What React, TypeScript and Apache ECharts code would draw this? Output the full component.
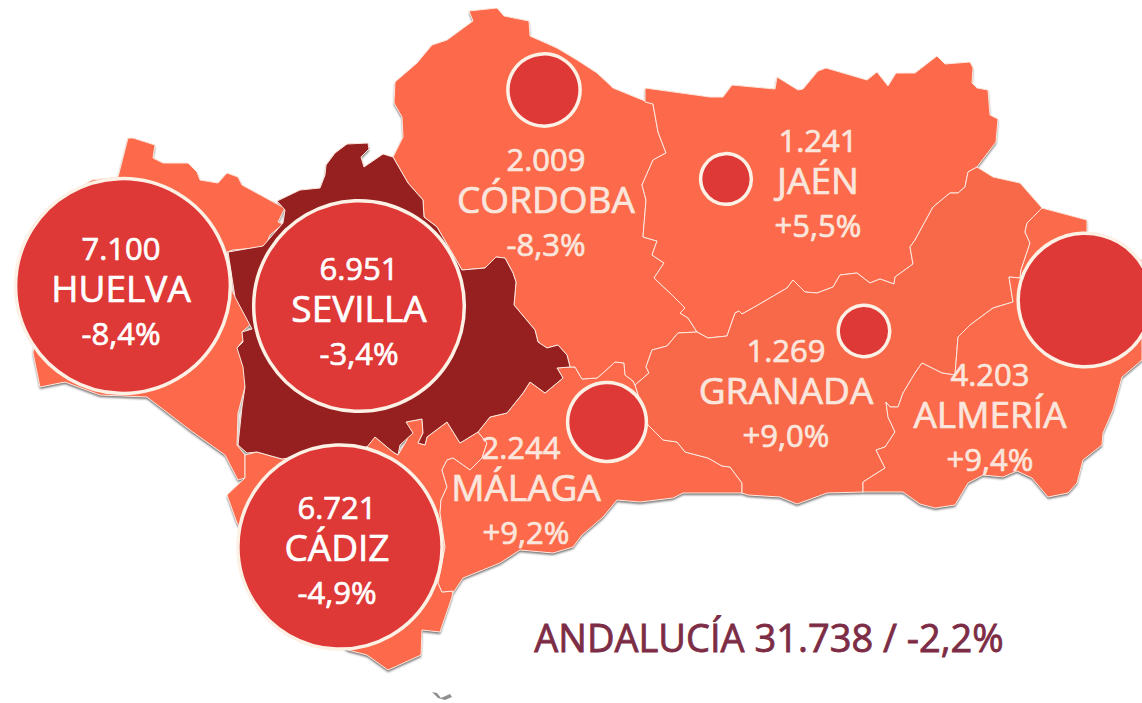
import React, { useEffect, useRef } from "react";
import * as echarts from "echarts";

const WIDTH = 1142;
const HEIGHT = 703;

const provinces = ["HUELVA", "SEVILLA", "CÁDIZ", "MÁLAGA", "CÓRDOBA", "JAÉN", "GRANADA", "ALMERÍA"];
const contracts = ["7.100", "6.951", "6.721", "2.244", "2.009", "1.241", "1.269", "4.203"];
const contractValues = [7100, 6951, 6721, 2244, 2009, 1241, 1269, 4203];
const changes = ["-8,4%", "-3,4%", "-4,9%", "+9,2%", "-8,3%", "+5,5%", "+9,0%", "+9,4%"];
const totalLabel = "ANDALUCÍA 31.738 / -2,2%";

// Map anchors (picture coordinates) of the bubbles and of the text blocks
const bubbleAnchors = [[123, 286], [359, 306], [340, 547], [607, 422], [544, 90], [726, 179], [864, 331], [1085, 300]];
const labelAnchors = [[121, 287], [359, 307], [337, 546], [526, 486], [546, 198], [818, 179], [786, 389], [990, 413]];

const outlineHuelva = [[128,138],[133,138],[155,145],[153,158],[163,163],[188,163],[197,172],[200,180],[218,183],[227,173],[238,177],[242,185],[275,203],[285,208],[278,222],[283,224],[270,235],[265,247],[233,250],[227,252],[233,293],[252,323],[242,332],[245,338],[237,348],[247,355],[245,387],[238,413],[237,445],[245,455],[245,478],[238,480],[225,455],[190,430],[147,397],[100,395],[65,382],[40,387],[33,353],[40,300],[60,200],[92,180],[118,177]];
const outlineSevilla = [[326,165],[335,153],[347,144],[368,143],[369,149],[361,157],[364,167],[383,154],[393,157],[408,183],[423,200],[424,217],[437,227],[462,270],[485,268],[496,257],[505,258],[513,273],[516,282],[514,305],[535,330],[538,342],[547,348],[558,345],[567,355],[570,367],[557,368],[563,378],[545,393],[530,382],[523,393],[507,413],[490,417],[478,432],[460,443],[447,422],[427,437],[425,445],[418,443],[423,433],[422,419],[406,422],[413,433],[400,445],[398,455],[393,452],[375,437],[367,447],[282,459],[257,452],[247,453],[238,445],[242,407],[245,387],[243,367],[237,348],[243,342],[242,332],[252,329],[235,297],[228,252],[263,246],[270,238],[283,223],[285,210],[277,201],[300,190],[320,188],[325,175]];
const outlineCadiz = [[245,455],[257,452],[282,459],[300,452],[375,437],[393,452],[398,455],[407,440],[406,422],[422,419],[423,433],[418,443],[425,445],[427,437],[447,422],[460,443],[478,432],[487,443],[482,458],[470,470],[453,458],[447,460],[442,470],[447,487],[441,500],[440,513],[445,547],[438,583],[442,592],[453,591],[452,597],[440,632],[422,630],[421,655],[388,670],[367,655],[348,650],[300,620],[237,523],[227,495],[245,478]];
const outlineMalaga = [[478,432],[490,417],[507,413],[523,393],[530,382],[545,393],[563,378],[557,368],[570,367],[575,367],[582,379],[597,378],[603,373],[615,362],[624,363],[625,375],[633,381],[635,385],[648,425],[663,440],[677,442],[685,452],[708,458],[722,466],[730,467],[742,483],[742,493],[683,493],[673,498],[640,502],[617,500],[603,517],[582,535],[573,547],[553,553],[520,550],[500,563],[463,578],[453,593],[453,591],[442,592],[438,583],[445,547],[440,513],[441,500],[447,487],[442,470],[447,460],[453,458],[470,470],[482,458],[487,443]];
const outlineCordoba = [[469,11],[497,8],[504,16],[529,21],[530,36],[557,48],[577,60],[597,73],[613,88],[640,99],[653,104],[658,132],[666,153],[653,160],[642,185],[646,200],[643,237],[657,241],[652,255],[664,263],[654,278],[670,293],[685,308],[680,313],[688,318],[697,332],[678,333],[667,346],[652,350],[646,367],[649,373],[635,385],[633,381],[625,375],[624,363],[615,362],[603,373],[597,378],[582,379],[575,367],[570,367],[567,355],[558,345],[547,348],[538,342],[535,330],[514,305],[516,282],[513,273],[505,258],[496,257],[485,268],[462,270],[437,227],[424,217],[423,200],[408,183],[393,157],[403,137],[402,117],[394,103],[395,82],[417,63],[432,45],[447,40],[473,21]];
const outlineJaen = [[645,88],[710,97],[723,97],[732,85],[775,89],[777,77],[798,90],[803,89],[818,71],[826,68],[867,80],[877,72],[888,86],[896,73],[915,73],[937,56],[945,64],[970,62],[973,68],[972,83],[977,88],[988,90],[990,115],[998,119],[996,142],[977,167],[968,172],[965,187],[958,193],[950,193],[933,207],[915,240],[910,247],[913,264],[895,277],[894,284],[880,279],[870,283],[857,273],[840,275],[833,287],[817,293],[805,292],[793,280],[787,288],[758,305],[742,314],[739,311],[735,313],[727,336],[708,338],[697,332],[688,318],[680,313],[685,308],[670,293],[654,278],[664,263],[652,255],[657,241],[643,237],[646,200],[642,185],[653,160],[666,153],[658,132],[653,104],[645,102]];
const outlineGranada = [[697,332],[708,338],[727,336],[735,313],[739,311],[742,314],[758,305],[787,288],[793,280],[805,292],[817,293],[833,287],[840,275],[857,273],[870,283],[880,279],[894,284],[895,277],[913,264],[910,247],[915,240],[933,207],[950,193],[958,193],[965,187],[968,172],[977,167],[993,177],[1020,183],[1042,208],[1027,223],[1025,232],[1030,243],[1021,270],[1020,278],[1009,277],[1013,302],[993,308],[970,325],[958,337],[955,375],[942,373],[922,363],[915,373],[903,393],[898,407],[890,407],[886,402],[888,417],[895,432],[885,447],[876,450],[885,468],[863,482],[863,492],[827,493],[797,504],[780,497],[748,495],[742,493],[742,483],[730,467],[722,466],[708,458],[685,452],[677,442],[663,440],[648,425],[635,385],[649,373],[646,367],[652,350],[667,346],[678,333]];
const outlineAlmeria = [[1042,208],[1087,220],[1087,240],[1142,260],[1142,360],[1122,377],[1113,410],[1103,433],[1102,445],[1083,460],[1077,483],[1068,493],[1048,497],[1032,478],[1017,471],[1003,477],[983,475],[968,483],[955,505],[935,508],[920,504],[903,492],[863,492],[863,482],[885,468],[876,450],[885,447],[895,432],[888,417],[886,402],[890,407],[898,407],[903,393],[915,373],[922,363],[942,373],[955,375],[958,337],[970,325],[993,308],[1013,302],[1009,277],[1020,278],[1021,270],[1030,243],[1025,232],[1027,223]];
const outlineIsland = [[432,692],[437,693],[441,698],[450,694],[452,697],[445,700],[438,698]];

const outlines = [outlineHuelva, outlineCadiz, outlineMalaga, outlineCordoba, outlineJaen, outlineGranada, outlineAlmeria, outlineSevilla];
const outlineFills = ["#fc6a4b", "#fc6a4b", "#fc6a4b", "#fc6a4b", "#fc6a4b", "#f8694a", "#fb6a4a", "#95201f"];

const bubbleRadius = (v: number) => 10 + 0.014 * v;

const polygonSeries = (shadow: boolean, z: number) => ({
  type: "custom",
  coordinateSystem: "cartesian2d",
  silent: true,
  z,
  clip: false,
  data: outlines.map((_, i) => [i]),
  encode: { x: -1, y: -1 },
  renderItem: (params: any, api: any) => {
    const i = params.dataIndex;
    return {
      type: "polygon",
      shape: { points: outlines[i].map((p) => api.coord(p)) },
      style: shadow
        ? { fill: "#fc6a4b", shadowColor: "rgba(60,60,60,0.75)", shadowBlur: 2, shadowOffsetX: 0, shadowOffsetY: 2 }
        : { fill: outlineFills[i], stroke: "#fde9e0", lineWidth: 1, lineJoin: "round" },
    };
  },
});

export default function App() {
  const ref = useRef<HTMLDivElement>(null);
  useEffect(() => {
    const chart = echarts.init(ref.current!, undefined, { renderer: "svg" });
    chart.setOption({
      animation: false,
      backgroundColor: "#ffffff",
      tooltip: { show: false },
      grid: { left: 0, right: 0, top: 0, bottom: 0 },
      xAxis: { type: "value", min: 0, max: WIDTH, show: false },
      yAxis: { type: "value", min: 0, max: HEIGHT, inverse: true, show: false },
      series: [
        polygonSeries(true, 1),
        polygonSeries(false, 2),
        {
          type: "custom",
          coordinateSystem: "cartesian2d",
          silent: true,
          z: 2,
          data: [[0]],
          encode: { x: -1, y: -1 },
          renderItem: (_: any, api: any) => ({
            type: "polygon",
            shape: { points: outlineIsland.map((p) => api.coord(p)) },
            style: { fill: "#8f8f8f" },
          }),
        },
        {
          type: "scatter",
          silent: true,
          z: 3,
          clip: false,
          symbol: "circle",
          data: contractValues.map((v, i) => [bubbleAnchors[i][0], bubbleAnchors[i][1], v]),
          symbolSize: (d: number[]) => bubbleRadius(d[2]) * 2 - 4,
          itemStyle: { color: "#de3837", borderColor: "#fdf1e6", borderWidth: 3.5, opacity: 1 },
        },
        {
          type: "custom",
          coordinateSystem: "cartesian2d",
          silent: true,
          z: 4,
          clip: false,
          data: provinces.map((_, i) => [i]),
          encode: { x: -1, y: -1 },
          renderItem: (params: any, api: any) => {
            const i = params.dataIndex;
            const [x, y] = api.coord(labelAnchors[i]);
            const onBubble = i < 3;
            const fill = onBubble ? "#ffffff" : "#fbe6dd";
            const line = (text: string, dy: number, size: number, dx = 0) => ({
              type: "text",
              style: {
                text,
                x: x + dx,
                y: y + dy,
                fill,
                stroke: fill,
                lineWidth: 0.7,
                font: `${size}px "Open Sans", sans-serif`,
                textAlign: "center",
                textVerticalAlign: "middle",
              },
            });
            return {
              type: "group",
              children: [
                line(contracts[i], -39, 31, i === 3 ? -5 : 0),
                line(provinces[i], 0, 37),
                line(changes[i], 46, 31),
              ],
            };
          },
        },
      ],
      graphic: [
        {
          type: "text",
          z: 10,
          silent: true,
          style: {
            text: totalLabel,
            x: 769,
            y: 637,
            fill: "#7d2c45",
            stroke: "#7d2c45",
            lineWidth: 0.8,
            font: '38px "Open Sans", sans-serif',
            textAlign: "center",
            textVerticalAlign: "middle",
          },
        },
      ],
    });
    return () => chart.dispose();
  }, []);
  return <div ref={ref} style={{ position: "absolute", left: 0, top: 0, width: WIDTH, height: HEIGHT }} />;
}
